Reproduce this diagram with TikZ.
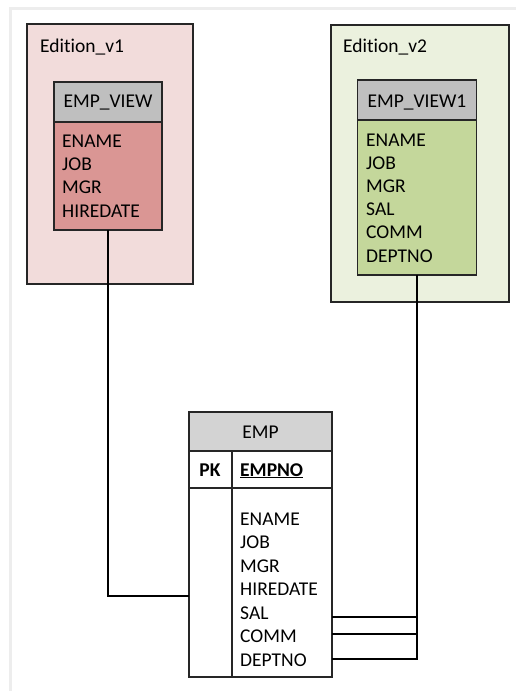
\documentclass[tikz,border=0pt]{standalone}
\usepackage{fontspec}
\setmainfont{Carlito}[Ligatures={NoCommon}]
\definecolor{pinkbg}{HTML}{F2DCDB}
\definecolor{pinkbody}{HTML}{DA9694}
\definecolor{greenbg}{HTML}{EBF1DE}
\definecolor{greenbody}{HTML}{C4D79B}
\definecolor{hdrgray}{HTML}{BFBFBF}
\definecolor{emphdr}{HTML}{D3D3D3}
\definecolor{edgegray}{HTML}{EDEDED}
\begin{document}
\begin{tikzpicture}[x=1pt,y=-1pt,
  frame/.style={draw=black!85, line width=1.4pt, inner sep=0, outer sep=0},
  lbl/.style={inner sep=0, anchor=base west, font=\fontsize{19.5}{22}\selectfont},
  hlbl/.style={inner sep=0, anchor=base, font=\fontsize{19.5}{22}\selectfont},
  conn/.style={draw=black, line width=1.6pt}]
\useasboundingbox (0,0) rectangle (516,691);
\fill[white] (0,0) rectangle (516,691);
\draw[edgegray, line width=3pt] (10,691) -- (10,8) -- (516,8);

% Edition v1
\node[frame, fill=pinkbg, minimum width=166, minimum height=260] (ed1) at (110,154) {};
\node[lbl] (ed1t) at (40,52) {Edition\_v1};
\node[frame, fill=hdrgray, minimum width=108, minimum height=40] (v1h) at (108,102) {};
\node[frame, fill=pinkbody, minimum width=108, minimum height=108] (v1b) at (108,176) {};
\node[hlbl] (v1ht) at (108,107) {EMP\_VIEW};
\node[lbl] (v1r1) at (62,147) {ENAME};
\node[lbl] (v1r2) at (62,170.3) {JOB};
\node[lbl] (v1r3) at (62,193.7) {MGR};
\node[lbl] (v1r4) at (62,217) {HIREDATE};

% Edition v2
\node[frame, fill=greenbg, minimum width=178, minimum height=277] (ed2) at (420,163.5) {};
\node[lbl] (ed2t) at (343,52) {Edition\_v2};
\node[frame, fill=hdrgray, minimum width=119, minimum height=40] (v2h) at (417,100) {};
\node[frame, fill=greenbody, minimum width=119, minimum height=155] (v2b) at (417,197.5) {};
\node[hlbl] (v2ht) at (417,107) {EMP\_VIEW1};
\node[lbl] (v2r1) at (366,146) {ENAME};
\node[lbl] (v2r2) at (366,169.2) {JOB};
\node[lbl] (v2r3) at (366,192.4) {MGR};
\node[lbl] (v2r4) at (366,215.6) {SAL};
\node[lbl] (v2r5) at (366,238.8) {COMM};
\node[lbl] (v2r6) at (366,262) {DEPTNO};

% EMP table
\node[frame, fill=emphdr, minimum width=143, minimum height=39] (emph) at (260.5,431.5) {};
\node[frame, fill=white, minimum width=143, minimum height=37] (empk) at (260.5,469.5) {};
\node[frame, fill=white, minimum width=143, minimum height=189] (empb) at (260.5,582.5) {};
\draw[frame] (232,451) -- (232,677);
\node[hlbl] (empht) at (260.5,438) {EMP};
\node[hlbl] (pk) at (210,476) {\bfseries PK};
\node[lbl] (empno) at (240,476) {\bfseries\underline{EMPNO}};
\node[lbl] (e1) at (240,525) {ENAME};
\node[lbl] (e2) at (240,548.5) {JOB};
\node[lbl] (e3) at (240,572) {MGR};
\node[lbl] (e4) at (240,595.5) {HIREDATE};
\node[lbl] (e5) at (240,619) {SAL};
\node[lbl] (e6) at (240,642.5) {COMM};
\node[lbl] (e7) at (240,666) {DEPTNO};

% connectors
\coordinate (c1) at (189,596);
\coordinate (r1) at (332,617);
\coordinate (r2) at (332,634);
\coordinate (r3) at (332,659);
\draw[conn] (v1b.south) |- (c1);
\draw[conn] (v2b.south) |- (r3);
\draw[conn] (v2b.south |- r1) -- (r1);
\draw[conn] (v2b.south |- r2) -- (r2);
\end{tikzpicture}
\end{document}
